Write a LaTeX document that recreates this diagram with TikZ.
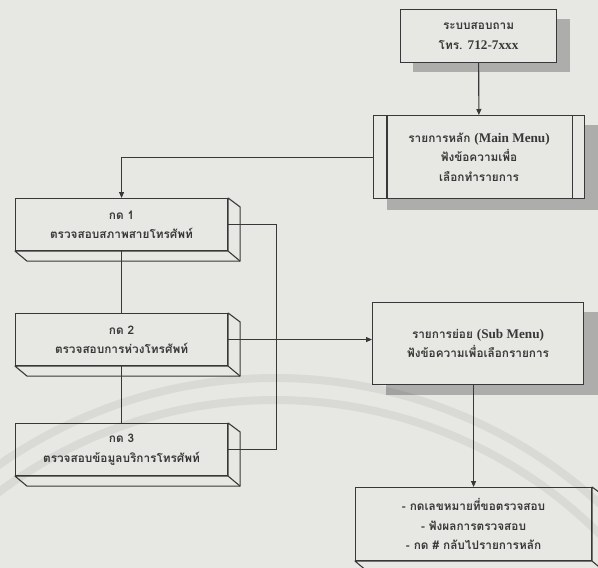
\documentclass[tikz,border=0pt]{standalone}
\usepackage{fontspec}
\setmainfont{Liberation Serif}
\newfontfamily\thaifont[Script=Thai]{Loma}
\newfontfamily\latfont[Scale=1.12]{Liberation Serif}
\usetikzlibrary{arrows.meta,calc}
\definecolor{bg}{HTML}{E7E7E4}
\definecolor{ink}{HTML}{383838}
\definecolor{shade}{HTML}{ADADAB}
\begin{document}
\begin{tikzpicture}[x=1pt,y=-1pt,
  line/.style={draw=ink, line width=1.1pt},
  arr/.style={line, -{Triangle[length=6pt,width=5pt]}},
  txt/.style={text=ink, font=\thaifont\bfseries\fontsize{11.8}{19.5}\selectfont, align=center},
  box/.style={line, fill=bg, txt, inner sep=0pt, anchor=north west},
  shadow/.style={fill=shade}]
\fill[bg] (0,0) rectangle (598,568);
\useasboundingbox (0,0) rectangle (598,568);
\clip (0,0) rectangle (598,568);

% shadows
\fill[shadow] (413,19) rectangle (570,72);
\fill[shadow] (387,125) rectangle (598,210);
\fill[shadow] (386,312) rectangle (598,395);

% flat boxes
\node[box, minimum width=156, minimum height=53] (top) at (400,9)
  {ระบบสอบถาม\\โทร. {\latfont 712-7xxx}};
\node[box, minimum width=211, minimum height=83] (main) at (373,115)
  {รายการหลัก {\latfont (Main Menu)}\\ฟังข้อความเพื่อ\\เลือกทำรายการ};
\draw[line] ($(main.north west)+(14,0)$) -- ($(main.south west)+(14,0)$);
\draw[line] ($(main.north east)+(-13,0)$) -- ($(main.south east)+(-13,0)$);
\node[box, minimum width=211, minimum height=82] (sub) at (372,302)
  {รายการย่อย {\latfont (Sub Menu)}\\ฟังข้อความเพื่อเลือกรายการ};

% cuboid boxes (front faces)
\node[box, minimum width=212, minimum height=52] (k1) at (15,198)
  {กด 1\\ตรวจสอบสภาพสายโทรศัพท์};
\node[box, minimum width=212, minimum height=52] (k2) at (15,313)
  {กด 2\\ตรวจสอบการห่วงโทรศัพท์};
\node[box, minimum width=212, minimum height=52] (k3) at (15,423)
  {กด 3\\ตรวจสอบข้อมูลบริการโทรศัพท์};
\node[box, minimum width=236, minimum height=73] (fin) at (355,487)
  {- กดเลขหมายที่ขอตรวจสอบ\\- ฟังผลการตรวจสอบ\\- กด \# กลับไปรายการหลัก};

\foreach \n in {k1,k2,k3,fin}{
  \draw[line, fill=bg, line join=round] (\n.north east) -- ++(12,9)
    -- ($(\n.south east)+(12,10)$) -- ($(\n.south west)+(12,10)$)
    -- (\n.south west) -- (\n.south east) -- cycle;
  \draw[line] (\n.south east) -- ++(12,10);
}

% connectors
\coordinate (loop) at (276.5,0);
\draw[arr] (top) -- (main);
\draw[arr] (main.west) -| (k1.north);
\draw[line] (k1.south) -- (k2.north);
\draw[line] (k2.south) -- (k3.north);
\draw[line] (k1.east) -- (k1.east -| loop) -- (k3.east -| loop) -- (k3.east);
\draw[arr] (k2.east) -- (k2.east -| sub.west);
\draw[arr] (sub.south -| fin.north) -- (fin.north);

% faint watermark arcs
\draw[black, opacity=0.06, line width=8pt] (275,860) ++(-47:482) arc[start angle=-47, end angle=-127, radius=482];
\draw[black, opacity=0.06, line width=8pt] (275,860) ++(-45:460) arc[start angle=-45, end angle=-129, radius=460];
\end{tikzpicture}
\end{document}
